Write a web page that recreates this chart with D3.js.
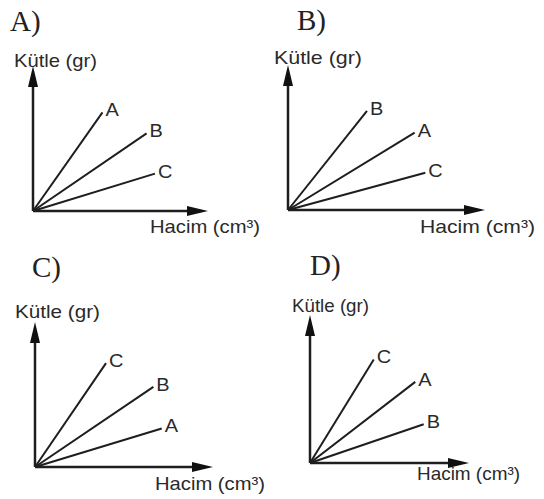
<!DOCTYPE html>
<html>
<head>
<meta charset="utf-8">
<script src="https://cdn.jsdelivr.net/npm/d3@7"></script>
<style>
  body { margin: 0; background: #fff; }
  svg { display: block; }
</style>
</head>
<body>
<svg width="544" height="499"></svg>
<script>
// answer options, each one a mass/volume graph with three straight lines
var options = ["A)", "B)", "C)", "D)"];
var yTitle = "Kütle (gr)";
var xTitle = "Hacim (cm³)";

// line names, top line first
var lineNames = [["A", "B", "C"], ["B", "A", "C"], ["C", "B", "A"], ["C", "A", "B"]];
// end point of each line, axis length = 10
var hacimEnd = [[3.97, 6.49, 6.97], [4.01, 6.43, 6.97], [3.99, 6.65, 7.12], [4.01, 6.62, 7.15]];
var kutleEnd = [[6.80, 5.35, 2.58], [6.83, 5.33, 2.57], [7.16, 5.53, 2.66], [7.00, 5.48, 2.62]];

// where each little graph sits on the page
var layout = [
  {ox: 33, oy: 211, xt: 208, yt: 66,  title: [10, 31],  ylab: [14, 67, 83],  xlab: [150, 233, 110]},
  {ox: 288, oy: 210, xt: 485, yt: 65, title: [297, 30], ylab: [274, 64, 88], xlab: [420, 233, 115]},
  {ox: 35, oy: 467, xt: 213, yt: 322, title: [32, 277], ylab: [15, 318, 85], xlab: [155, 490, 110]},
  {ox: 310, oy: 463, xt: 469, yt: 315, title: [310, 275], ylab: [292, 312, 77], xlab: [417, 480, 103]}
];

var svg = d3.select("svg");
var ink = "#1e1e1e";

options.forEach(function(opt, i) {
  var L = layout[i];
  var x = d3.scaleLinear().domain([0, 10]).range([L.ox, L.xt]);
  var y = d3.scaleLinear().domain([0, 10]).range([L.oy, L.yt]);
  var g = svg.append("g").attr("class", "option");

  g.append("text")
    .attr("x", L.title[0])
    .attr("y", L.title[1])
    .attr("font-family", "'Liberation Serif', 'Times New Roman', serif")
    .attr("font-size", "29px")
    .attr("fill", "#222")
    .text(opt);

  // y axis + arrow
  g.append("line")
    .attr("x1", x(0)).attr("y1", y(0))
    .attr("x2", x(0)).attr("y2", y(10) + 12)
    .attr("stroke", ink).attr("stroke-width", 2.5);
  g.append("path")
    .attr("d", "M" + x(0) + "," + y(10) + "l-5,21l10,0z")
    .attr("fill", "#111");

  // x axis + arrow
  g.append("line")
    .attr("x1", x(0)).attr("y1", y(0))
    .attr("x2", x(10) - 12).attr("y2", y(0))
    .attr("stroke", ink).attr("stroke-width", 2.5);
  g.append("path")
    .attr("d", "M" + x(10) + "," + y(0) + "l-21,-5l0,10z")
    .attr("fill", "#111");

  var rows = lineNames[i].map(function(n, j) {
    return {name: n, h: hacimEnd[i][j], k: kutleEnd[i][j]};
  });

  var line = d3.line()
    .x(function(d) { return x(d[0]); })
    .y(function(d) { return y(d[1]); });

  g.selectAll(".ln")
    .data(rows)
    .enter().append("path")
    .attr("class", "ln")
    .attr("d", function(d) { return line([[0, 0], [d.h, d.k]]); })
    .attr("fill", "none")
    .attr("stroke", ink)
    .attr("stroke-width", 2);

  g.selectAll(".nm")
    .data(rows)
    .enter().append("text")
    .attr("class", "nm sans")
    .attr("x", function(d) { return x(d.h) + 3; })
    .attr("y", function(d) { return y(d.k) + 4; })
    .text(function(d) { return d.name; });

  g.append("text")
    .attr("class", "sans axt")
    .attr("x", L.ylab[0]).attr("y", L.ylab[1])
    .attr("data-w", L.ylab[2])
    .text(yTitle);

  g.append("text")
    .attr("class", "sans axt")
    .attr("x", L.xlab[0]).attr("y", L.xlab[1])
    .attr("data-w", L.xlab[2])
    .text(xTitle);
});

svg.selectAll(".sans")
  .attr("font-family", "'Liberation Sans', Arial, sans-serif")
  .attr("font-size", "19px")
  .attr("fill", "#2a2a2a");

// the scan is a bit stretched sideways
svg.selectAll(".axt").each(function() {
  d3.select(this)
    .attr("textLength", +this.getAttribute("data-w"))
    .attr("lengthAdjust", "spacingAndGlyphs");
});
svg.selectAll(".nm").each(function() {
  d3.select(this)
    .attr("textLength", this.getComputedTextLength() * 1.05)
    .attr("lengthAdjust", "spacingAndGlyphs");
});
</script>
</body>
</html>
